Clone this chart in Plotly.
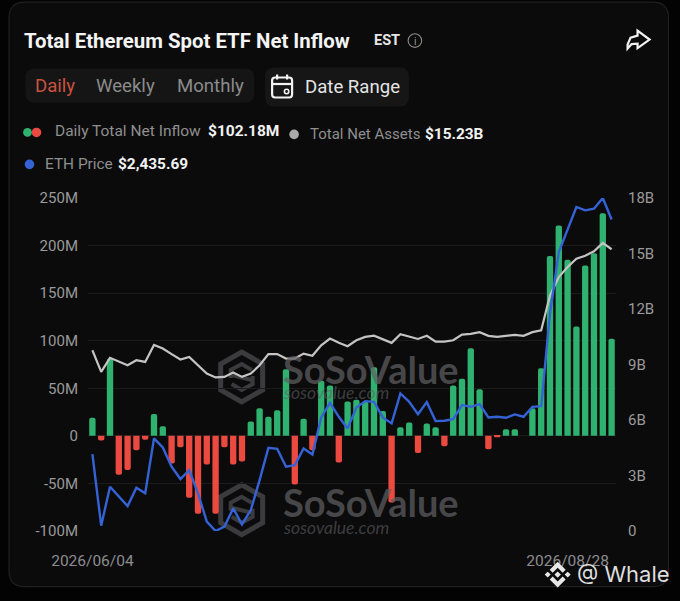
import plotly.graph_objects as go

# ---------- data ----------
june = ["04","05","08","09","10","11","12","15","16","17","18","22","23","24","25","26","29","30"]
july = ["01","02","06","07","08","09","10","13","14","15","16","17","20","21","22","23","24","27","28","29","30","31"]
august = ["03","04","05","06","07","10","11","12","13","14","17","18","19","20","21","24","25","26","27","28"]
dates = [f"2026/06/{d}" for d in june] + [f"2026/07/{d}" for d in july] + [f"2026/08/{d}" for d in august]

net_inflow_m = [19,-5,81,-41,-36,-15,-4,23,10,-29,-12,-65,-82,-30,-82,-12,-30,-27,15,29,
                20,27,70,-51,18,-15,58,53,-28,36,38,36,72,26,-70,9,14,-18,13,9,
                -11,53,60,92,49,-14,-1.5,7,7,0,29,71,189,221,185,115,179,192,234,102]
net_assets_b = [9.77,8.6,9.36,9.14,8.96,9.23,9.14,10.06,9.86,9.56,9.27,9.41,8.96,8.51,8.3,8.33,8.57,8.33,8.51,8.96,
                9.56,9.56,9.32,9.32,9.59,9.47,10.04,10.4,10.17,9.99,10.31,10.49,10.56,10.35,10.17,10.64,10.49,10.38,10.55,10.24,
                10.24,10.31,10.62,10.66,10.75,10.55,10.49,10.55,10.6,10.55,10.75,10.85,12.74,13.73,14.27,14.72,14.88,15.12,15.57,15.23]
eth_price = [1731,1516,1633,1605,1575,1630,1613,1778,1751,1693,1656,1683,1613,1528,1500,1513,1568,1520,1563,1653,
             1750,1747,1693,1698,1748,1730,1841,1885,1843,1808,1871,1890,1888,1841,1823,1913,1888,1851,1887,1830,
             1831,1836,1878,1873,1881,1841,1843,1840,1850,1843,1873,1875,2153,2338,2408,2473,2463,2468,2500,2435.69]

left_ticks = [-100,-50,0,50,100,150,200,250]
left_labels = ["-100M","-50M","0","50M","100M","150M","200M","250M"]
right_ticks = [0,3,6,9,12,15,18]
right_labels = ["0","3B","6B","9B","12B","15B","18B"]

# ---------- page geometry ----------
W, H = 680, 601
L, R, T, B = 87.6, 616.4, 197.7, 531.3
FONT = "Roboto"
GREEN, RED, BLUE, GRAY = "#2fb170", "#ea4a40", "#3563d6", "#c4c4c4"
xp = lambda x: (x - L) / (R - L)
yp = lambda y: (B - y) / (B - T)

shapes, notes = [], []

def poly(pts, fill=None, line=None, width=0, close=True, layer="below"):
    d = "M" + " L".join(f"{xp(x):.5f},{yp(y):.5f}" for x, y in pts) + (" Z" if close else "")
    shapes.append(dict(type="path", path=d, xref="paper", yref="paper", layer=layer,
                       fillcolor=fill or "rgba(0,0,0,0)",
                       line=dict(color=line or "rgba(0,0,0,0)", width=width)))

def rrect(x0, y0, x1, y1, r, fill=None, line=None, width=0):
    P = lambda x, y: f"{xp(x):.5f},{yp(y):.5f}"
    d = (f"M{P(x0+r,y0)} L{P(x1-r,y0)} Q{P(x1,y0)} {P(x1,y0+r)} L{P(x1,y1-r)} Q{P(x1,y1)} {P(x1-r,y1)} "
         f"L{P(x0+r,y1)} Q{P(x0,y1)} {P(x0,y1-r)} L{P(x0,y0+r)} Q{P(x0,y0)} {P(x0+r,y0)} Z")
    shapes.append(dict(type="path", path=d, xref="paper", yref="paper", layer="below",
                       fillcolor=fill or "rgba(0,0,0,0)",
                       line=dict(color=line or "rgba(0,0,0,0)", width=width)))

def dot(cx, cy, r, fill=None, line=None, width=0, layer="above"):
    shapes.append(dict(type="circle", xref="paper", yref="paper", layer=layer,
                       x0=xp(cx-r), x1=xp(cx+r), y0=yp(cy+r), y1=yp(cy-r),
                       fillcolor=fill or "rgba(0,0,0,0)",
                       line=dict(color=line or "rgba(0,0,0,0)", width=width)))

def text(x, y, s, size, color, anchor="left", family=FONT):
    notes.append(dict(text=s, x=xp(x - 2 if anchor == "left" else x), y=yp(y), xref="paper", yref="paper",
                      showarrow=False, xanchor=anchor, yanchor="middle", align=anchor,
                      font=dict(size=size, color=color, family=family)))

# card and pills
rrect(8.5, 1.5, 669, 587, 16, fill="#0b0b0c", line="#202022", width=1.2)
rrect(25, 68, 254, 102, 9, fill="#151516")
rrect(265, 67, 409, 106, 9, fill="#161617")

# header
text(24, 40, "<b>Total Ethereum Spot ETF Net Inflow</b>", 20.4, "#f4f4f4")
text(374, 40, "<b>EST</b>", 14.5, "#e6e6e6")
dot(415, 40, 6.8, line="#8d8d8d", width=1.1)
text(415, 40.5, "i", 10, "#9a9a9a", "center")
poly([(638,30),(650,39),(638,47.5),(638,43),(632,43.5),(628,48),(628,44),(631,37),(638,35)],
     line="#f2f2f2", width=2.2, layer="above")

text(35, 85, "Daily", 18.6, "#c9523f")
text(96, 85, "Weekly", 18.6, "#8b8b8b")
text(177, 85, "Monthly", 18.6, "#8b8b8b")
rrect(272, 77, 292, 97, 3, line="#f2f2f2", width=2.2)
poly([(272,83.5),(292,83.5)], line="#f2f2f2", width=2.2, close=False, layer="above")
poly([(277,74),(277,79)], line="#f2f2f2", width=2.2, close=False, layer="above")
poly([(287,74),(287,79)], line="#f2f2f2", width=2.2, close=False, layer="above")
dot(286.5, 91, 2.2, line="#f2f2f2", width=1.6)
text(305, 87, "Date Range", 18.6, "#e4e4e4")

# legend row
dot(27, 132, 4.4, fill=GREEN)
dot(36, 132, 4.8, fill=RED)
text(55, 131, "Daily Total Net Inflow", 15.5, "#8f8f8f")
text(208, 131, "<b>$102.18M</b>", 15.5, "#f2f2f2")
dot(294, 134, 4.8, fill="#a9a9a9")
text(310, 134, "Total Net Assets", 15, "#8f8f8f")
text(425, 134, "<b>$15.23B</b>", 15.4, "#f2f2f2")
dot(29, 164, 4.8, fill=BLUE)
text(45, 164, "ETH Price", 15.4, "#8f8f8f")
text(118, 164, "<b>$2,435.69</b>", 15.4, "#f2f2f2")

# watermarks
MARK = "#3b3b3d"
for cy, ty, sy in [(377, 369, 393), (510, 502, 528)]:
    cx = 241.5
    poly([(cx,cy-25),(cx+21,cy-13),(cx+21,cy+13),(cx,cy+25),(cx-21,cy+13),(cx-21,cy-13)], line=MARK, width=5)
    poly([(cx-11,cy+1),(cx-11,cy-7),(cx,cy-13),(cx+10,cy-7)], line=MARK, width=4, close=False)
    poly([(cx+11,cy-1),(cx+11,cy+7),(cx,cy+13),(cx-10,cy+7)], line=MARK, width=4, close=False)
    poly([(cx-10,cy-2),(cx+10,cy+3)], line=MARK, width=4, close=False)
    text(283, ty, "<b>SoSoValue</b>", 38, "rgba(95,95,97,0.72)", family="Lato")
    text(283, sy, "<i>sosovalue.com</i>", 17.5, "rgba(95,95,97,0.62)", family="Lato")

# credit
LOGO = "#e8e8e8"
cx, cy = 558, 575
poly([(cx,cy-13),(cx+8,cy-5),(cx+5,cy-2),(cx,cy-7),(cx-5,cy-2),(cx-8,cy-5)], fill=LOGO, layer="above")
poly([(cx,cy+13),(cx+8,cy+5),(cx+5,cy+2),(cx,cy+7),(cx-5,cy+2),(cx-8,cy+5)], fill=LOGO, layer="above")
poly([(cx,cy-3.2),(cx+3.2,cy),(cx,cy+3.2),(cx-3.2,cy)], fill=LOGO, layer="above")
poly([(cx-10,cy-3),(cx-7,cy),(cx-10,cy+3),(cx-13,cy)], fill=LOGO, layer="above")
poly([(cx+10,cy-3),(cx+13,cy),(cx+10,cy+3),(cx+7,cy)], fill=LOGO, layer="above")
text(577, 574, "@ Whale", 22, "#dedede", family="Inter")

# ---------- traces ----------
fig = go.Figure()
fig.add_bar(x=dates, y=net_inflow_m, name="Daily Total Net Inflow", width=0.72,
            marker=dict(color=[GREEN if v >= 0 else RED for v in net_inflow_m], cornerradius=2.5, line_width=0))
fig.add_scatter(x=dates, y=net_assets_b, name="Total Net Assets", yaxis="y2", mode="lines",
                line=dict(color=GRAY, width=2.2))
fig.add_scatter(x=dates, y=eth_price, name="ETH Price", yaxis="y3", mode="lines",
                line=dict(color=BLUE, width=2.4))

fig.update_layout(
    width=W, height=H, autosize=False, showlegend=False, bargap=0.28,
    margin=dict(l=L, r=W-R, t=T, b=H-B, pad=0),
    paper_bgcolor="#030303", plot_bgcolor="rgba(0,0,0,0)",
    font=dict(family=FONT, color="#969696", size=14),
    shapes=shapes, annotations=notes,
    xaxis=dict(type="category", categoryorder="array", categoryarray=dates, range=[-0.5, 59.5],
               showgrid=False, zeroline=False, showline=False,
               tickmode="array", tickvals=[dates[0], dates[54]], ticktext=[dates[0], dates[59]],
               ticks="outside", ticklen=15, tickcolor="rgba(0,0,0,0)", tickangle=0,
               tickfont=dict(size=15.5, color="#8d8d8d")),
    yaxis=dict(range=[-100, 250], tickmode="array", tickvals=left_ticks, ticktext=left_labels,
               showgrid=True, gridcolor="#1b1b1c", gridwidth=1, zeroline=False, showline=False,
               ticks="outside", ticklen=6, tickcolor="rgba(0,0,0,0)",
               tickfont=dict(size=15, color="#9a9a9a")),
    yaxis2=dict(range=[0, 18], overlaying="y", side="right", tickmode="array",
                tickvals=right_ticks, ticktext=right_labels, showgrid=False, zeroline=False, showline=False,
                ticks="outside", ticklen=8, tickcolor="rgba(0,0,0,0)",
                tickfont=dict(size=15, color="#9a9a9a")),
    yaxis3=dict(range=[1500, 2500], overlaying="y", side="right", visible=False),
)

fig.write_html("out.html", config=dict(displayModeBar=False),
               post_script="document.body.style.margin='0';document.body.style.overflow='hidden';document.body.style.background='#030303';")
